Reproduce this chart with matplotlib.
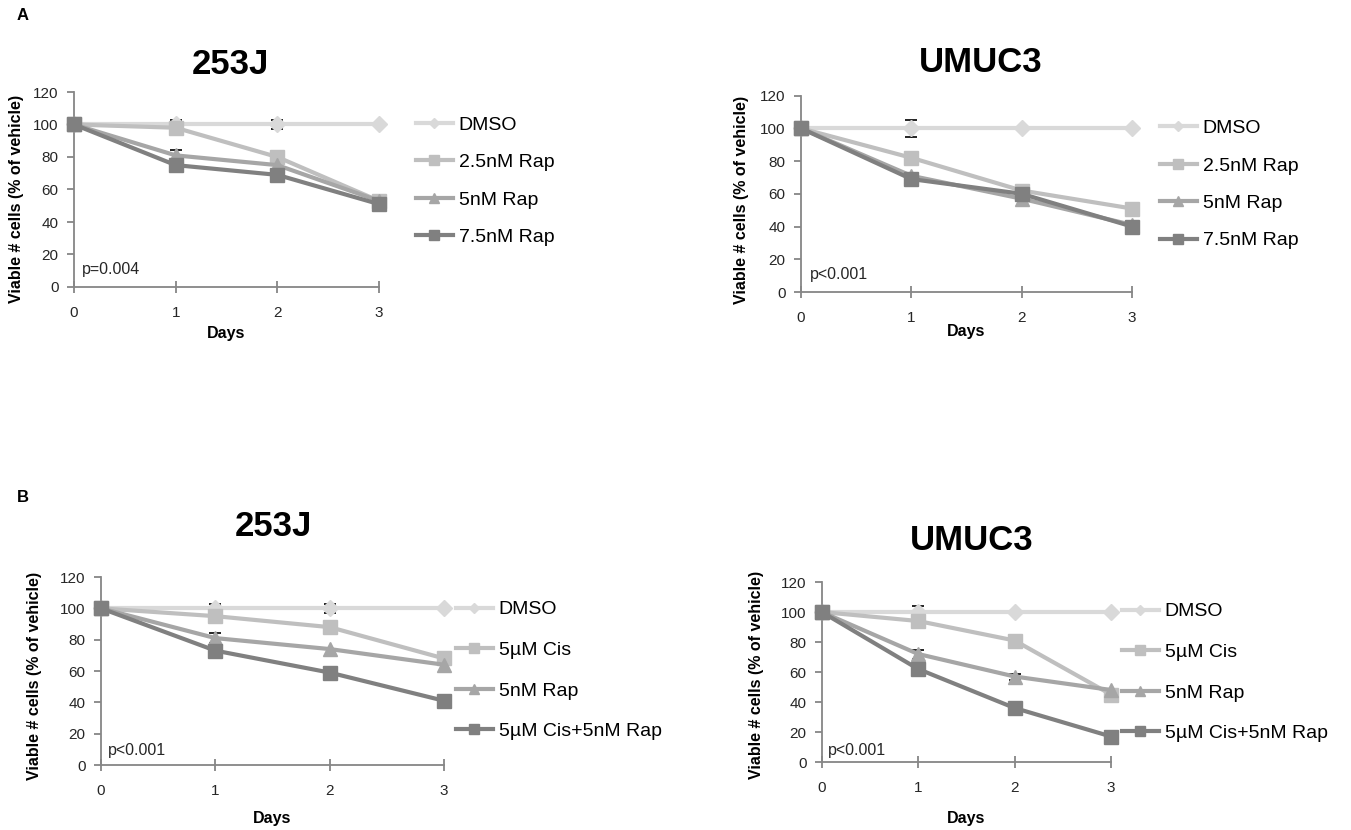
import matplotlib
matplotlib.use('Agg')
import matplotlib.pyplot as plt

plt.rcParams['font.family'] = ['Liberation Sans', 'DejaVu Sans']

W, H = 1351, 830

days = [0, 1, 2, 3]

# panel A: rapamycin alone
a_labels = ['DMSO', '2.5nM Rap', '5nM Rap', '7.5nM Rap']
a253_values = [
    [100, 100, 100, 100],
    [100, 98, 80, 53],
    [100, 81, 75, 53],
    [100, 75, 69, 51],
]
a253_err = [
    [0, 3, 3, 0],
    [0, 0, 0, 0],
    [0, 3, 0, 0],
    [0, 0, 0, 0],
]
aum_values = [
    [100, 100, 100, 100],
    [100, 82, 62, 51],
    [100, 71, 57, 41],
    [100, 69, 60, 40],
]
aum_err = [
    [0, 5, 1, 0],
    [0, 0, 0, 0],
    [0, 2, 0, 0],
    [0, 0, 0, 0],
]

# panel B: cisplatin + rapamycin
b_labels = ['DMSO', '5\u00b5M Cis', '5nM Rap', '5\u00b5M Cis+5nM Rap']
b253_values = [
    [100, 100, 100, 100],
    [100, 95, 88, 68],
    [100, 81, 74, 64],
    [100, 73, 59, 41],
]
b253_err = [
    [0, 3, 3, 0],
    [0, 0, 0, 0],
    [0, 3, 0, 0],
    [0, 0, 0, 0],
]
bum_values = [
    [100, 100, 100, 100],
    [100, 94, 81, 45],
    [100, 72, 57, 48],
    [100, 62, 36, 17],
]
bum_err = [
    [0, 4, 0, 0],
    [0, 0, 0, 0],
    [0, 3, 2, 0],
    [0, 0, 0, 0],
]

COLORS = ['#d9d9d9', '#bfbfbf', '#a6a6a6', '#808080']
MARKERS = ['D', 's', '^', 's']
MSIZES = [8, 10, 10, 10]
AXIS_GRAY = '#868686'


def px_rect(x0, x3, y0, y120):
    # axes rectangle from pixel positions of (day 0, 0%) and (day 3, 120%)
    return [x0 / W, 1 - y0 / H, (x3 - x0) / W, (y0 - y120) / H]


def draw_panel(fig, rect, values, errs, labels, pval, ptxt_xy, leg_xy, leg_space,
               title, title_xy, ylab_xy, days_y):
    ax = fig.add_axes(rect)
    handles = []
    for i, vals in enumerate(values):
        ax.errorbar(days, vals, yerr=errs[i], fmt='none', ecolor='black',
                    elinewidth=0.8, capsize=4, capthick=1.2, linestyle=':', zorder=1)
        line, = ax.plot(days, vals, color=COLORS[i], marker=MARKERS[i],
                        markersize=MSIZES[i], linewidth=3, zorder=2 + i, clip_on=False)
        handles.append(line)

    ax.set_xlim(0, 3)
    ax.set_ylim(0, 120)
    ax.set_xticks(days)
    ax.set_yticks(range(0, 121, 20))
    for s in ['top', 'right']:
        ax.spines[s].set_visible(False)
    for s in ['left', 'bottom']:
        ax.spines[s].set_color(AXIS_GRAY)
        ax.spines[s].set_linewidth(1.3)
    ax.tick_params(axis='x', direction='inout', length=8, width=1.3, color=AXIS_GRAY,
                   labelsize=11, labelcolor='#262626', pad=10)
    ax.tick_params(axis='y', direction='out', length=5, width=1.3, color=AXIS_GRAY,
                   labelsize=11, labelcolor='#262626', pad=6)

    ax.text(ptxt_xy[0], ptxt_xy[1], pval, fontsize=11.5, color='#262626',
            ha='left', va='center')

    fig.text(ylab_xy[0] / W, 1 - ylab_xy[1] / H, 'Viable # cells (% of vehicle)',
             rotation=90, fontsize=11.5, fontweight='bold', ha='center', va='center')
    fig.text(rect[0] + rect[2] / 2, 1 - days_y / H, 'Days', fontsize=11.5,
             fontweight='bold', ha='center', va='center')
    fig.text(title_xy[0] / W, 1 - title_xy[1] / H, title, fontsize=25,
             fontweight='bold', ha='center', va='center')

    ax.legend(handles, labels, loc='center left',
              bbox_to_anchor=(leg_xy[0] / W, 1 - leg_xy[1] / H),
              bbox_transform=fig.transFigure, frameon=False, fontsize=14,
              handlelength=1.9, handletextpad=0.3, borderpad=0, borderaxespad=0,
              labelspacing=leg_space, markerscale=0.7)
    return ax


fig = plt.figure(figsize=(W / 100, H / 100), dpi=100)

draw_panel(fig, px_rect(74, 379, 287, 92), a253_values, a253_err, a_labels,
           'p=0.004', (0.08, 10.5), (416, 181), 1.02, '253J', (230, 64), (17, 199), 333)
draw_panel(fig, px_rect(801, 1132, 292, 95.6), aum_values, aum_err, a_labels,
           'p<0.001', (0.08, 10.5), (1160, 184.5), 1.02, 'UMUC3', (981, 62), (742, 200), 331)
draw_panel(fig, px_rect(101, 444, 765, 577), b253_values, b253_err, b_labels,
           'p<0.001', (0.06, 9), (456, 670.5), 1.18, '253J', (273, 527), (35, 676), 818)
draw_panel(fig, px_rect(821.7, 1111, 762, 582), bum_values, bum_err, b_labels,
           'p<0.001', (0.065, 8), (1122, 672.5), 1.18, 'UMUC3', (972, 540), (757, 675), 818)

fig.text(17 / W, 1 - 16 / H, 'A', fontsize=12, fontweight='bold', ha='left', va='center')
fig.text(17 / W, 1 - 497 / H, 'B', fontsize=12, fontweight='bold', ha='left', va='center')

fig.savefig('out.png', dpi=100)
